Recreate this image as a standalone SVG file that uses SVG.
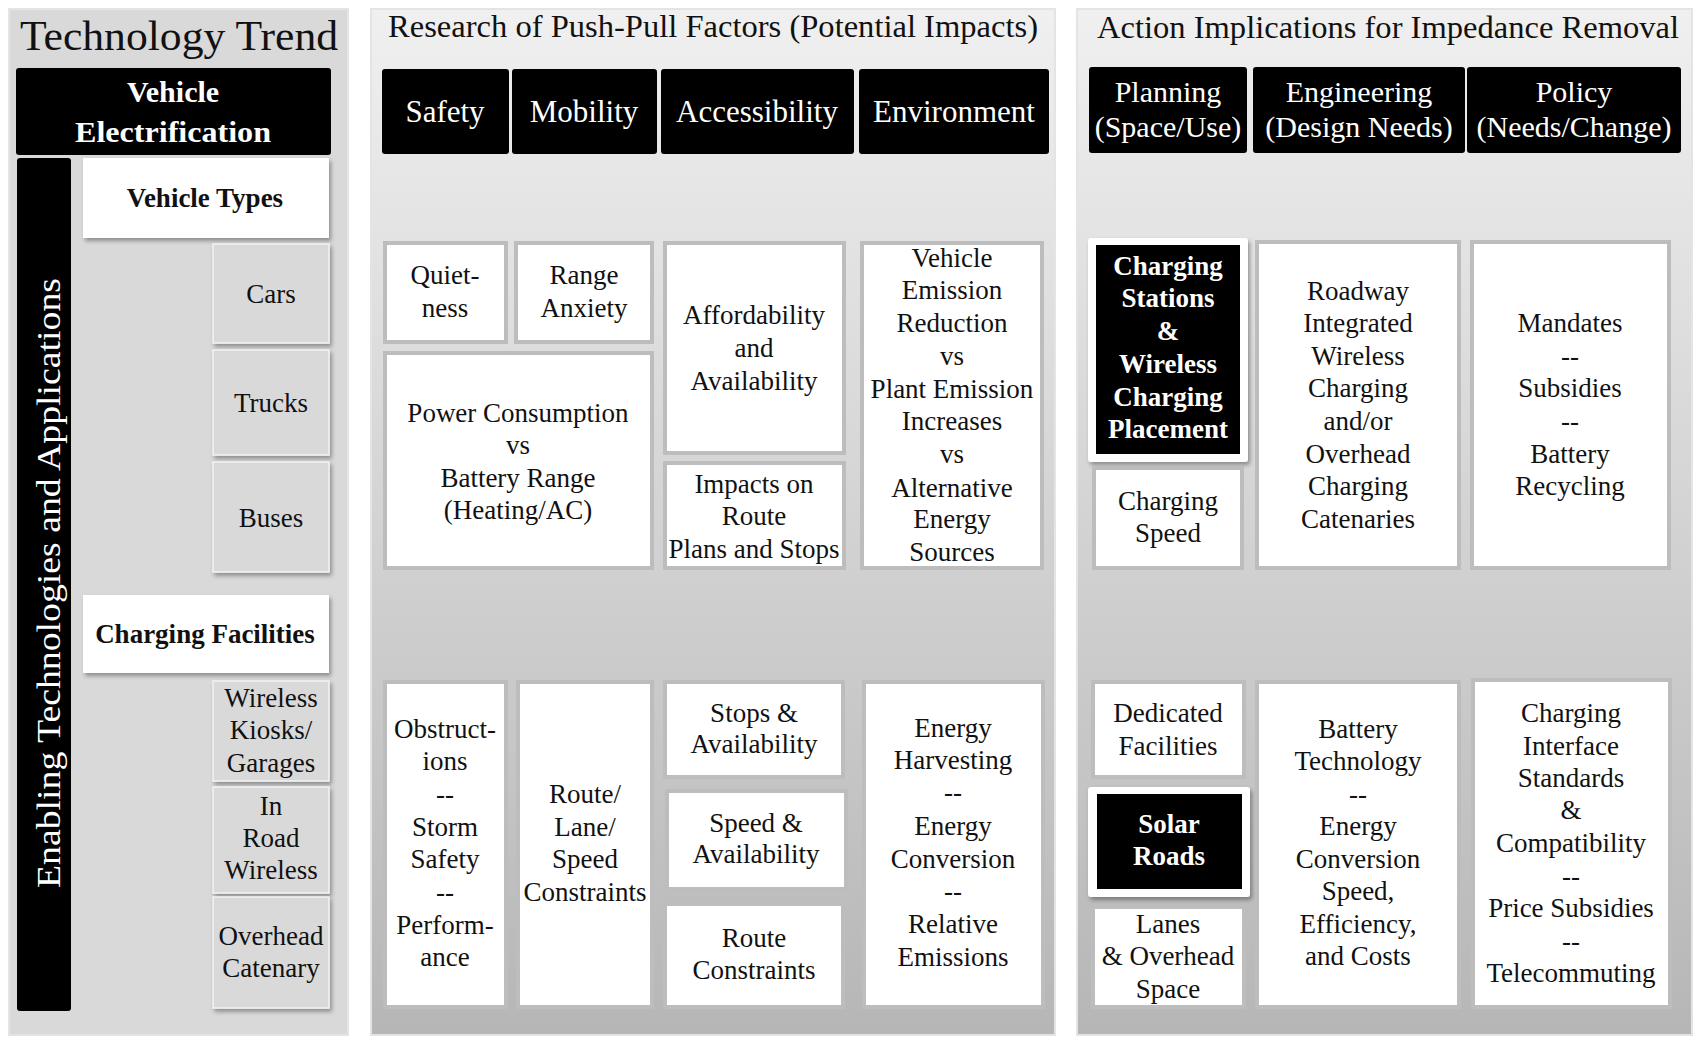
<svg xmlns="http://www.w3.org/2000/svg" width="1705" height="1037" viewBox="0 0 1705 1037">
<defs>
<linearGradient id="pg" x1="0" y1="0" x2="0" y2="1">
<stop offset="0" stop-color="#f0f0f0"/>
<stop offset="1" stop-color="#b6b6b6"/>
</linearGradient>
<filter id="sh" x="-10%" y="-10%" width="130%" height="130%">
<feDropShadow dx="2" dy="3" stdDeviation="2" flood-color="#000" flood-opacity="0.35"/>
</filter>
<style>
text{font-family:"Liberation Serif","Times New Roman",serif;text-anchor:middle;fill:#111}
.t{font-size:27px}
.b{font-weight:bold}
.w{fill:#fff}
.hd{font-size:31px;fill:#fff}
.hd2{font-size:30px;fill:#fff}
.blk{fill:#000}
.gbox{fill:#d9d9d9;stroke:#f2f2f2;stroke-width:1.5}
.wbox{fill:#fff}
.cell{fill:#fff;stroke:#bdbdbd;stroke-width:4}
.panel{stroke:#e4e4e4;stroke-width:2}
</style>
</defs>
<rect width="1705" height="1037" fill="#fff"/>

<g id="panels">
<rect class="panel" x="9" y="9" width="339" height="1026" fill="#d9d9d9"/>
<rect class="panel" x="371" y="9" width="684" height="1026" fill="url(#pg)"/>
<rect class="panel" x="1077" y="9" width="615" height="1026" fill="url(#pg)"/>
</g>

<g id="titles">
<text x="179" y="50" font-size="43" textLength="318" lengthAdjust="spacingAndGlyphs">Technology Trend</text>
<text x="713" y="37" font-size="32" textLength="650" lengthAdjust="spacingAndGlyphs">Research of Push-Pull Factors (Potential Impacts)</text>
<text x="1388" y="38" font-size="31" textLength="582" lengthAdjust="spacingAndGlyphs">Action Implications for Impedance Removal</text>
</g>

<g id="vehicle-electrification">
<rect class="blk" x="16" y="68" width="315" height="87" rx="3"/>
<text class="w b" x="173" y="102" font-size="30">Vehicle</text>
<text class="w b" x="173" y="142" font-size="30" textLength="196" lengthAdjust="spacingAndGlyphs">Electrification</text>
</g>
<g id="enabling">
<rect class="blk" x="17" y="158" width="54" height="853" rx="3"/>
<text class="w" transform="translate(60 583) rotate(-90)" x="0" y="0" font-size="34" textLength="610" lengthAdjust="spacingAndGlyphs">Enabling  Technologies  and  Applications</text>
</g>
<g id="vehicle-types">
<rect class="wbox" x="83" y="158" width="246" height="80" filter="url(#sh)"/>
<text class="t b" x="205" y="207">Vehicle Types</text>
</g>
<g id="cars">
<rect class="gbox" x="213" y="244" width="116" height="99" filter="url(#sh)"/>
<text class="t" x="271" y="303">Cars</text>
</g>
<g id="trucks">
<rect class="gbox" x="213" y="350" width="116" height="105" filter="url(#sh)"/>
<text class="t" x="271" y="412">Trucks</text>
</g>
<g id="buses">
<rect class="gbox" x="213" y="462" width="116" height="110" filter="url(#sh)"/>
<text class="t" x="271" y="527">Buses</text>
</g>
<g id="charging-facilities">
<rect class="wbox" x="83" y="595" width="246" height="78" filter="url(#sh)"/>
<text class="t b" x="205" y="643">Charging Facilities</text>
</g>
<g id="wireless-kiosks">
<rect class="gbox" x="213" y="681" width="116" height="100" filter="url(#sh)"/>
<text class="t" x="271" y="707">Wireless</text>
<text class="t" x="271" y="739">Kiosks/</text>
<text class="t" x="271" y="772">Garages</text>
</g>
<g id="in-road-wireless">
<rect class="gbox" x="213" y="787" width="116" height="106" filter="url(#sh)"/>
<text class="t" x="271" y="815">In</text>
<text class="t" x="271" y="847">Road</text>
<text class="t" x="271" y="879">Wireless</text>
</g>
<g id="overhead-catenary">
<rect class="gbox" x="213" y="897" width="116" height="111" filter="url(#sh)"/>
<text class="t" x="271" y="945">Overhead</text>
<text class="t" x="271" y="977">Catenary</text>
</g>

<g id="h-safety"><rect class="blk" x="382" y="69" width="127" height="85" rx="3"/><text class="hd" x="445" y="122">Safety</text></g>
<g id="h-mobility"><rect class="blk" x="512" y="69" width="145" height="85" rx="3"/><text class="hd" x="584" y="122">Mobility</text></g>
<g id="h-accessibility"><rect class="blk" x="661" y="69" width="193" height="85" rx="3"/><text class="hd" x="757" y="122">Accessibility</text></g>
<g id="h-environment"><rect class="blk" x="859" y="69" width="190" height="85" rx="3"/><text class="hd" x="954" y="122">Environment</text></g>

<g id="quietness"><rect class="cell" x="385" y="243" width="121" height="99"/>
<text class="t" x="445" y="284">Quiet-</text><text class="t" x="445" y="317">ness</text></g>
<g id="range-anxiety"><rect class="cell" x="516" y="243" width="136" height="99"/>
<text class="t" x="584" y="284">Range</text><text class="t" x="584" y="317">Anxiety</text></g>
<g id="power-consumption"><rect class="cell" x="385" y="353" width="267" height="215"/>
<text class="t" x="518" y="422">Power Consumption</text><text class="t" x="518" y="454">vs</text><text class="t" x="518" y="487">Battery Range</text><text class="t" x="518" y="519">(Heating/AC)</text></g>
<g id="affordability"><rect class="cell" x="665" y="243" width="179" height="210"/>
<text class="t" x="754" y="324">Affordability</text><text class="t" x="754" y="357">and</text><text class="t" x="754" y="390">Availability</text></g>
<g id="impacts-route"><rect class="cell" x="665" y="463" width="179" height="105"/>
<text class="t" x="754" y="493">Impacts on</text><text class="t" x="754" y="525">Route</text><text class="t" x="754" y="558">Plans and Stops</text></g>
<g id="vehicle-emission"><rect class="cell" x="862" y="243" width="180" height="325"/>
<text class="t" x="952" y="267">Vehicle</text><text class="t" x="952" y="299">Emission</text><text class="t" x="952" y="332">Reduction</text><text class="t" x="952" y="365">vs</text><text class="t" x="952" y="398">Plant Emission</text><text class="t" x="952" y="430">Increases</text><text class="t" x="952" y="463">vs</text><text class="t" x="952" y="497">Alternative</text><text class="t" x="952" y="528">Energy</text><text class="t" x="952" y="561">Sources</text></g>

<g id="obstructions"><rect class="cell" x="385" y="682" width="121" height="325"/>
<text class="t" x="445" y="738">Obstruct-</text><text class="t" x="445" y="770">ions</text><text class="t" x="445" y="803">--</text><text class="t" x="445" y="836">Storm</text><text class="t" x="445" y="868">Safety</text><text class="t" x="445" y="901">--</text><text class="t" x="445" y="934">Perform-</text><text class="t" x="445" y="966">ance</text></g>
<g id="route-lane-speed"><rect class="cell" x="518" y="682" width="134" height="325"/>
<text class="t" x="585" y="803">Route/</text><text class="t" x="585" y="836">Lane/</text><text class="t" x="585" y="868">Speed</text><text class="t" x="585" y="901">Constraints</text></g>
<g id="stops-availability"><rect class="cell" x="665" y="682" width="178" height="95"/>
<text class="t" x="754" y="722">Stops &amp;</text><text class="t" x="754" y="753">Availability</text></g>
<g id="speed-availability"><rect class="cell" x="667" y="791" width="179" height="98"/>
<text class="t" x="756" y="832">Speed &amp;</text><text class="t" x="756" y="863">Availability</text></g>
<g id="route-constraints"><rect class="cell" x="665" y="904" width="178" height="103"/>
<text class="t" x="754" y="947">Route</text><text class="t" x="754" y="979">Constraints</text></g>
<g id="energy-harvesting"><rect class="cell" x="864" y="682" width="179" height="325"/>
<text class="t" x="953" y="737">Energy</text><text class="t" x="953" y="769">Harvesting</text><text class="t" x="953" y="801">--</text><text class="t" x="953" y="835">Energy</text><text class="t" x="953" y="868">Conversion</text><text class="t" x="953" y="900">--</text><text class="t" x="953" y="933">Relative</text><text class="t" x="953" y="966">Emissions</text></g>

<g id="h-planning"><rect class="blk" x="1089" y="67" width="158" height="86" rx="3"/><text class="hd2" x="1168" y="102">Planning</text><text class="hd2" x="1168" y="137">(Space/Use)</text></g>
<g id="h-engineering"><rect class="blk" x="1253" y="67" width="212" height="86" rx="3"/><text class="hd2" x="1359" y="102">Engineering</text><text class="hd2" x="1359" y="137">(Design Needs)</text></g>
<g id="h-policy"><rect class="blk" x="1467" y="67" width="214" height="86" rx="3"/><text class="hd2" x="1574" y="102">Policy</text><text class="hd2" x="1574" y="137">(Needs/Change)</text></g>

<g id="charging-stations"><rect class="wbox" x="1088" y="238" width="160" height="224" rx="3" filter="url(#sh)"/><rect class="blk" x="1096" y="245" width="144" height="209"/>
<text class="t b w" x="1168" y="275" font-size="28">Charging</text><text class="t b w" x="1168" y="307" font-size="28">Stations</text><text class="t b w" x="1168" y="340" font-size="28">&amp;</text><text class="t b w" x="1168" y="373" font-size="28">Wireless</text><text class="t b w" x="1168" y="406" font-size="28">Charging</text><text class="t b w" x="1168" y="438" font-size="28">Placement</text></g>
<g id="charging-speed"><rect class="cell" x="1094" y="468" width="148" height="100"/>
<text class="t" x="1168" y="510">Charging</text><text class="t" x="1168" y="542">Speed</text></g>
<g id="roadway-integrated"><rect class="cell" x="1257" y="242" width="202" height="326"/>
<text class="t" x="1358" y="300">Roadway</text><text class="t" x="1358" y="332">Integrated</text><text class="t" x="1358" y="365">Wireless</text><text class="t" x="1358" y="397">Charging</text><text class="t" x="1358" y="430">and/or</text><text class="t" x="1358" y="463">Overhead</text><text class="t" x="1358" y="495">Charging</text><text class="t" x="1358" y="528">Catenaries</text></g>
<g id="mandates"><rect class="cell" x="1472" y="242" width="197" height="326"/>
<text class="t" x="1570" y="332">Mandates</text><text class="t" x="1570" y="365">--</text><text class="t" x="1570" y="397">Subsidies</text><text class="t" x="1570" y="430">--</text><text class="t" x="1570" y="463">Battery</text><text class="t" x="1570" y="495">Recycling</text></g>

<g id="dedicated-facilities"><rect class="cell" x="1093" y="682" width="151" height="95"/>
<text class="t" x="1168" y="722">Dedicated</text><text class="t" x="1168" y="755">Facilities</text></g>
<g id="solar-roads"><rect class="wbox" x="1088" y="787" width="162" height="110" rx="3" filter="url(#sh)"/><rect class="blk" x="1097" y="794" width="145" height="95"/>
<text class="t b w" x="1169" y="833" font-size="28">Solar</text><text class="t b w" x="1169" y="865" font-size="28">Roads</text></g>
<g id="lanes-overhead"><rect class="cell" x="1093" y="907" width="151" height="100"/>
<text class="t" x="1168" y="933">Lanes</text><text class="t" x="1168" y="965">&amp; Overhead</text><text class="t" x="1168" y="998">Space</text></g>
<g id="battery-technology"><rect class="cell" x="1257" y="682" width="202" height="325"/>
<text class="t" x="1358" y="738">Battery</text><text class="t" x="1358" y="770">Technology</text><text class="t" x="1358" y="803">--</text><text class="t" x="1358" y="835">Energy</text><text class="t" x="1358" y="868">Conversion</text><text class="t" x="1358" y="900">Speed,</text><text class="t" x="1358" y="933">Efficiency,</text><text class="t" x="1358" y="965">and Costs</text></g>
<g id="charging-interface"><rect class="cell" x="1473" y="680" width="197" height="327"/>
<text class="t" x="1571" y="722">Charging</text><text class="t" x="1571" y="755">Interface</text><text class="t" x="1571" y="787">Standards</text><text class="t" x="1571" y="819">&amp;</text><text class="t" x="1571" y="852">Compatibility</text><text class="t" x="1571" y="885">--</text><text class="t" x="1571" y="917">Price Subsidies</text><text class="t" x="1571" y="950">--</text><text class="t" x="1571" y="982">Telecommuting</text></g>

<g id="connectors"></g>
</svg>
